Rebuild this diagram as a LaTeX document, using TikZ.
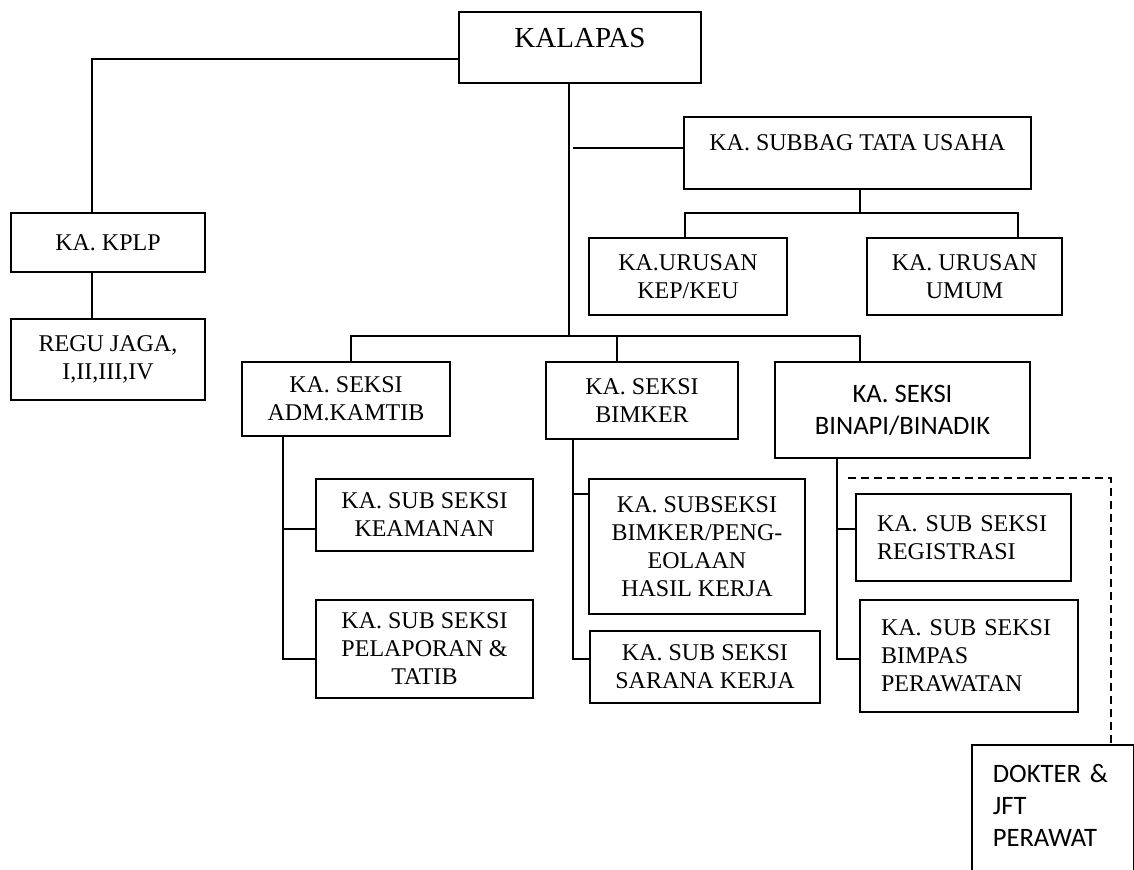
\documentclass[tikz,border=0pt]{standalone}
\usepackage{fontspec}
\setmainfont{Liberation Serif}
\newfontfamily\calibri{Carlito}
\begin{document}
\begin{tikzpicture}[x=0.5pt, y=-0.5pt, line width=0.75pt,
  box/.style={draw, line width=0.8pt, align=center, inner sep=0pt, font=\fontsize{12}{14}\selectfont},
  wh/.style 2 args={minimum width=#1*0.5pt, minimum height=#2*0.5pt},
  lbox/.style={box, align=left, inner xsep=10.5pt, inner ysep=0pt},
  sans/.style={font=\calibri\fontsize{13.3}{16}\selectfont},
  dotline/.style={dash pattern=on 4pt off 2.5pt, line width=0.6pt}]
\useasboundingbox (0,0) rectangle (1134,870);
\node (kalapas)[box, wh={242}{71}, font=\fontsize{14.5}{17}\selectfont, text height=8pt, text depth=8pt] at (580,47.5) {KALAPAS};
\node (kplp)[box, wh={194}{59}] at (108,242.5) {KA. KPLP};
\node (regu)[box, wh={194}{81}] at (108,359.5) {REGU JAGA,\\I,II,III,IV};
\node (subbag)[box, wh={347}{72}, text height=8pt, text depth=10pt] at (857.5,153) {KA. SUBBAG TATA USAHA};
\node (kepkeu)[box, wh={198}{77}] at (688,276.5) {KA.URUSAN\\KEP/KEU};
\node (umum)[box, wh={195}{77}] at (964.5,276.5) {KA. URUSAN\\UMUM};
\node (adm)[box, wh={208}{74}] at (346,399) {KA. SEKSI\\ADM.KAMTIB};
\node (bimker)[box, wh={192}{77}] at (642,400.5) {KA. SEKSI\\BIMKER};
\node (binapi)[box, sans, wh={255}{96}] at (902.5,410) {KA. SEKSI\\BINAPI/BINADIK};
\node (keamanan)[box, wh={217}{72}] at (424.5,515) {KA. SUB SEKSI\\KEAMANAN};
\node (pelaporan)[box, wh={217}{98}] at (424.5,649) {KA. SUB SEKSI\\PELAPORAN \&\\TATIB};
\node (hasil)[box, wh={216}{135}] at (697,546.5) {KA. SUBSEKSI\\BIMKER/PENG-\\EOLAAN\\HASIL KERJA};
\node (sarana)[box, wh={230}{72}] at (705,667) {KA. SUB SEKSI\\SARANA KERJA};
\node (registrasi)[lbox, text width=86.5pt, minimum height=43.5pt] at (963.5,537.5) {KA. SUB SEKSI\\REGISTRASI};
\node (bimpas)[lbox, text width=88pt, minimum height=56pt] at (969,656) {KA. SUB SEKSI\\BIMPAS\\PERAWATAN};
\node (dokter)[lbox, sans, text width=60pt, inner ysep=10pt, text depth=60pt, anchor=north west] at (971,744) {DOKTER \&\\JFT\\PERAWAT};
\coordinate (kpbend) at (92,59);
\draw (kalapas.west |- kpbend) -- (kpbend) -- (kpbend |- kplp.north);
\draw (kpbend |- kplp.south) -- (kpbend |- regu.north);
\coordinate (spine) at (569,336);
\draw (spine |- kalapas.south) -- (spine);
\coordinate (tubend) at (573,148);
\draw (tubend) -- (tubend -| subbag.west);
\coordinate (urbar) at (860,213);
\coordinate (urleft) at (685,213);
\coordinate (urright) at (1018,213);
\draw (subbag.south -| urbar) -- (urbar);
\draw (urleft |- kepkeu.north) -- (urleft) -- (urright) -- (urright |- umum.north);
\coordinate (skleft) at (351,336);
\coordinate (skmid) at (617,336);
\coordinate (skright) at (860,336);
\draw (skleft |- adm.north) -- (skleft) -- (skright) -- (skright |- binapi.north);
\draw (skmid) -- (skmid |- bimker.north);
\coordinate (admline) at (283,659);
\coordinate (keabr) at (283,529);
\draw (admline |- adm.south) -- (admline) -- (admline -| pelaporan.west);
\draw (keabr) -- (keabr -| keamanan.west);
\coordinate (bimline) at (573,659);
\coordinate (hasilbr) at (573,494);
\draw (bimline |- bimker.south) -- (bimline) -- (bimline -| sarana.west);
\draw (hasilbr) -- (hasilbr -| hasil.west);
\coordinate (binline) at (837,659);
\coordinate (regbr) at (837,529);
\draw (binline |- binapi.south) -- (binline) -- (binline -| bimpas.west);
\draw (regbr) -- (regbr -| registrasi.west);
\coordinate (dstart) at (848,478);
\coordinate (dcorner) at (1111,478);
\draw[dotline] (dstart) -- (dcorner) -- (dcorner |- dokter.north);
\end{tikzpicture}
\end{document}
